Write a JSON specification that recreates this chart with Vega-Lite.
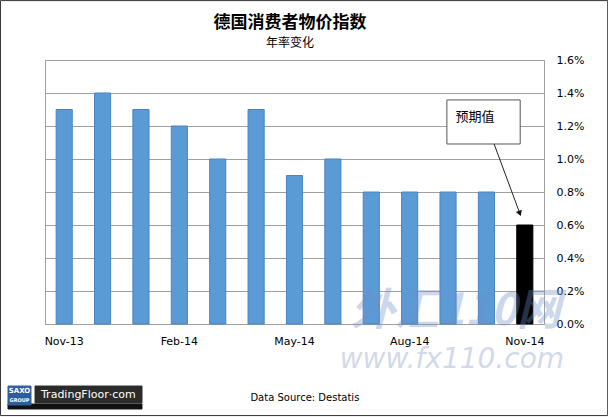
{
  "$schema": "https://vega.github.io/schema/vega-lite/v6.json",
  "width": 499,
  "height": 264,
  "autosize": "none",
  "padding": {"left": 45, "top": 60, "right": 64, "bottom": 93},
  "background": "white",
  "datasets": {
    "cpi": [
      {"m": "Nov-13", "v": 0.013, "kind": "actual"},
      {"m": "Dec-13", "v": 0.014, "kind": "actual"},
      {"m": "Jan-14", "v": 0.013, "kind": "actual"},
      {"m": "Feb-14", "v": 0.012, "kind": "actual"},
      {"m": "Mar-14", "v": 0.010, "kind": "actual"},
      {"m": "Apr-14", "v": 0.013, "kind": "actual"},
      {"m": "May-14", "v": 0.009, "kind": "actual"},
      {"m": "Jun-14", "v": 0.010, "kind": "actual"},
      {"m": "Jul-14", "v": 0.008, "kind": "actual"},
      {"m": "Aug-14", "v": 0.008, "kind": "actual"},
      {"m": "Sep-14", "v": 0.008, "kind": "actual"},
      {"m": "Oct-14", "v": 0.008, "kind": "actual"},
      {"m": "Nov-14", "v": 0.006, "kind": "forecast"}
    ],
    "boxes": [
      {"name": "frame", "x": -1.16, "x2": 14.66, "y": 0.0196, "y2": -0.00555, "fill": "transparent", "stroke": "#333333"},
      {"name": "note", "x": 10.47, "x2": 12.38, "y": 0.01358, "y2": 0.01091, "fill": "white", "stroke": "#555555"},
      {"name": "band", "x": -0.964, "x2": 2.527, "y": -0.00485, "y2": -0.00515, "fill": "#111111", "stroke": "#111111"},
      {"name": "saxo", "x": -0.964, "x2": -0.365, "y": -0.00376, "y2": -0.00491, "fill": "#2f5d9c", "stroke": "#2f5d9c"},
      {"name": "tf", "x": -0.26, "x2": 2.527, "y": -0.00376, "y2": -0.00479, "fill": "#2b2b2b", "stroke": "#2b2b2b"}
    ],
    "labels": [
      {"g": "title", "x": 6.38, "y": 0.01825, "t": "德国消费者物价指数"},
      {"g": "cjk", "x": 6.38, "y": 0.01706, "t": "年率变化"},
      {"g": "cjk13", "x": 11.2, "y": 0.01255, "t": "预期值"},
      {"g": "src", "x": 6.77, "y": -0.00449, "t": "Data Source: Destatis"},
      {"g": "saxo", "x": -0.664, "y": -0.00405, "t": "SAXO"},
      {"g": "group", "x": -0.664, "y": -0.00458, "t": "GROUP"},
      {"g": "tf", "x": 1.13, "y": -0.00428, "t": "TradingFloor·com"},
      {"g": "wm1", "x": 10.7, "y": 0.0007, "t": "外汇110网"},
      {"g": "wm2", "x": 10.6, "y": -0.0022, "t": "www.fx110.com"}
    ],
    "arrow": [
      {"x": 11.7, "y": 0.01091, "x2": 12.37, "y2": 0.0067}
    ]
  },
  "layer": [
    {
      "data": {"name": "cpi"},
      "mark": {"type": "bar", "strokeWidth": 1},
      "encoding": {
        "x": {
          "field": "m",
          "type": "ordinal",
          "sort": null,
          "scale": {"paddingInner": 0.58},
          "axis": {
            "title": null,
            "values": ["Nov-13", "Feb-14", "May-14", "Aug-14", "Nov-14"],
            "labelAngle": 0,
            "ticks": false,
            "domain": false,
            "labelPadding": 11,
            "labelFont": "DejaVu Sans",
            "labelFontSize": 11,
            "labelColor": "black"
          }
        },
        "y": {
          "field": "v",
          "type": "quantitative",
          "scale": {"domain": [0, 0.016], "nice": false},
          "axis": {
            "orient": "right",
            "title": null,
            "format": ".1%",
            "values": [0, 0.002, 0.004, 0.006, 0.008, 0.01, 0.012, 0.014, 0.016],
            "ticks": false,
            "domain": false,
            "labelPadding": 12,
            "labelFont": "DejaVu Sans",
            "labelFontSize": 11,
            "labelColor": "black",
            "grid": true,
            "gridColor": "#a0a0a0",
            "gridWidth": 1
          }
        },
        "color": {
          "field": "kind",
          "type": "nominal",
          "scale": {"domain": ["actual", "forecast"], "range": ["#5b9bd5", "#000000"]},
          "legend": null
        },
        "stroke": {
          "field": "kind",
          "type": "nominal",
          "scale": {"domain": ["actual", "forecast"], "range": ["#4a84c0", "#000000"]},
          "legend": null
        }
      }
    },
    {
      "data": {"name": "boxes"},
      "mark": {"type": "rect", "strokeWidth": 1},
      "encoding": {
        "x": {"field": "x", "type": "quantitative", "scale": {"domain": [0, 13], "nice": false, "zero": false}, "axis": null},
        "x2": {"field": "x2"},
        "y": {"field": "y", "type": "quantitative", "scale": {"domain": [0, 0.016], "nice": false}, "axis": null},
        "y2": {"field": "y2"},
        "fill": {"field": "fill", "type": "nominal", "scale": null},
        "stroke": {"field": "stroke", "type": "nominal", "scale": null}
      }
    },
    {
      "data": {"name": "arrow"},
      "mark": {"type": "rule", "color": "#222222", "strokeWidth": 1},
      "encoding": {
        "x": {"field": "x", "type": "quantitative", "scale": {"domain": [0, 13], "nice": false, "zero": false}, "axis": null},
        "x2": {"field": "x2"},
        "y": {"field": "y", "type": "quantitative", "scale": {"domain": [0, 0.016], "nice": false}, "axis": null},
        "y2": {"field": "y2"}
      }
    },
    {
      "data": {"name": "arrow"},
      "mark": {"type": "point", "shape": "triangle-up", "filled": true, "color": "#111111", "size": 40, "angle": 159, "opacity": 1},
      "encoding": {
        "x": {"field": "x2", "type": "quantitative", "scale": {"domain": [0, 13], "nice": false, "zero": false}, "axis": null},
        "y": {"field": "y2", "type": "quantitative", "scale": {"domain": [0, 0.016], "nice": false}, "axis": null}
      }
    },
    {
      "data": {"name": "labels"},
      "transform": [{"filter": "datum.g === 'wm1'"}],
      "mark": {"type": "text", "baseline": "middle", "font": "Noto Sans CJK SC", "fontSize": 44, "fontWeight": "bold", "fontStyle": "italic", "color": "#6f8fca", "opacity": 0.35},
      "encoding": {
        "x": {"field": "x", "type": "quantitative", "scale": {"domain": [0, 13], "nice": false, "zero": false}, "axis": null},
        "y": {"field": "y", "type": "quantitative", "scale": {"domain": [0, 0.016], "nice": false}, "axis": null},
        "text": {"field": "t"}
      }
    },
    {
      "data": {"name": "labels"},
      "transform": [{"filter": "datum.g === 'wm2'"}],
      "mark": {"type": "text", "baseline": "middle", "font": "DejaVu Sans", "fontSize": 28, "fontStyle": "italic", "color": "#7c93c4", "opacity": 0.35},
      "encoding": {
        "x": {"field": "x", "type": "quantitative", "scale": {"domain": [0, 13], "nice": false, "zero": false}, "axis": null},
        "y": {"field": "y", "type": "quantitative", "scale": {"domain": [0, 0.016], "nice": false}, "axis": null},
        "text": {"field": "t"}
      }
    },
    {
      "data": {"name": "labels"},
      "transform": [{"filter": "datum.g === 'title'"}],
      "mark": {"type": "text", "baseline": "middle", "font": "Noto Sans CJK SC", "fontSize": 17, "fontWeight": "bold", "color": "black"},
      "encoding": {
        "x": {"field": "x", "type": "quantitative", "scale": {"domain": [0, 13], "nice": false, "zero": false}, "axis": null},
        "y": {"field": "y", "type": "quantitative", "scale": {"domain": [0, 0.016], "nice": false}, "axis": null},
        "text": {"field": "t"}
      }
    },
    {
      "data": {"name": "labels"},
      "transform": [{"filter": "datum.g === 'cjk'"}],
      "mark": {"type": "text", "baseline": "middle", "font": "Noto Sans CJK SC", "fontSize": 12, "color": "black"},
      "encoding": {
        "x": {"field": "x", "type": "quantitative", "scale": {"domain": [0, 13], "nice": false, "zero": false}, "axis": null},
        "y": {"field": "y", "type": "quantitative", "scale": {"domain": [0, 0.016], "nice": false}, "axis": null},
        "text": {"field": "t"}
      }
    },
    {
      "data": {"name": "labels"},
      "transform": [{"filter": "datum.g === 'cjk13'"}],
      "mark": {"type": "text", "baseline": "middle", "font": "Noto Sans CJK SC", "fontSize": 13, "color": "black"},
      "encoding": {
        "x": {"field": "x", "type": "quantitative", "scale": {"domain": [0, 13], "nice": false, "zero": false}, "axis": null},
        "y": {"field": "y", "type": "quantitative", "scale": {"domain": [0, 0.016], "nice": false}, "axis": null},
        "text": {"field": "t"}
      }
    },
    {
      "data": {"name": "labels"},
      "transform": [{"filter": "datum.g === 'src'"}],
      "mark": {"type": "text", "baseline": "middle", "font": "DejaVu Sans", "fontSize": 10, "color": "black"},
      "encoding": {
        "x": {"field": "x", "type": "quantitative", "scale": {"domain": [0, 13], "nice": false, "zero": false}, "axis": null},
        "y": {"field": "y", "type": "quantitative", "scale": {"domain": [0, 0.016], "nice": false}, "axis": null},
        "text": {"field": "t"}
      }
    },
    {
      "data": {"name": "labels"},
      "transform": [{"filter": "datum.g === 'saxo'"}],
      "mark": {"type": "text", "baseline": "middle", "font": "DejaVu Sans", "fontSize": 7, "fontWeight": "bold", "color": "white"},
      "encoding": {
        "x": {"field": "x", "type": "quantitative", "scale": {"domain": [0, 13], "nice": false, "zero": false}, "axis": null},
        "y": {"field": "y", "type": "quantitative", "scale": {"domain": [0, 0.016], "nice": false}, "axis": null},
        "text": {"field": "t"}
      }
    },
    {
      "data": {"name": "labels"},
      "transform": [{"filter": "datum.g === 'group'"}],
      "mark": {"type": "text", "baseline": "middle", "font": "DejaVu Sans", "fontSize": 5, "fontWeight": "bold", "color": "white"},
      "encoding": {
        "x": {"field": "x", "type": "quantitative", "scale": {"domain": [0, 13], "nice": false, "zero": false}, "axis": null},
        "y": {"field": "y", "type": "quantitative", "scale": {"domain": [0, 0.016], "nice": false}, "axis": null},
        "text": {"field": "t"}
      }
    },
    {
      "data": {"name": "labels"},
      "transform": [{"filter": "datum.g === 'tf'"}],
      "mark": {"type": "text", "baseline": "middle", "font": "DejaVu Sans", "fontSize": 11, "color": "white"},
      "encoding": {
        "x": {"field": "x", "type": "quantitative", "scale": {"domain": [0, 13], "nice": false, "zero": false}, "axis": null},
        "y": {"field": "y", "type": "quantitative", "scale": {"domain": [0, 0.016], "nice": false}, "axis": null},
        "text": {"field": "t"}
      }
    }
  ],
  "resolve": {"scale": {"x": "independent", "y": "independent", "color": "independent", "stroke": "independent"}},
  "config": {
    "view": {"stroke": "#a0a0a0", "strokeWidth": 1}
  }
}
